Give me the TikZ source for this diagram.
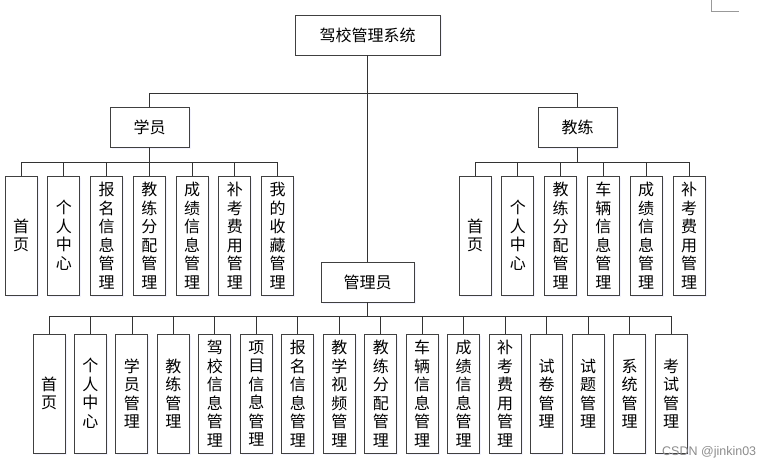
\documentclass[tikz,border=0pt]{standalone}
\usepackage{fontspec}
\newfontfamily\cjk{Noto Sans CJK SC}
\usetikzlibrary{shadows}
\tikzset{
  box/.style={draw=black!75, line width=0.9pt, fill=white, inner sep=0pt,
    align=center, font=\cjk\fontsize{16}{18.5}\selectfont,
    drop shadow={shadow xshift=1.5pt, shadow yshift=-1.5pt, fill=blue!8, opacity=.6}},
  wide/.style={box, minimum height=40, minimum width=79},
  tall/.style={box, minimum height=119, minimum width=32},
  link/.style={draw=black!80, line width=0.8pt}
}
\begin{document}
\begin{tikzpicture}[x=1pt,y=-1pt]
\useasboundingbox (0,0) rectangle (775,468);
% top
\node[wide, minimum width=145] (root) at (367.5,35) {驾校管理系统};
\node[wide] (stu) at (149.5,127) {学员};
\node[wide] (coach) at (577.5,127) {教练};
\node[wide, minimum width=93] (admin) at (367.5,282) {管理员};
\draw[link] (root.south) -- ++(0,38) -| (stu.north);
\draw[link] (root.south) -- ++(0,38) -| (coach.north);
\draw[link] (root) -- (admin);
% students
\scope
\foreach \t [count=\i from 0] in {首\\页, 个\\人\\中\\心, 报\\名\\信\\息\\管\\理,
    教\\练\\分\\配\\管\\理, 成\\绩\\信\\息\\管\\理, 补\\考\\费\\用\\管\\理,
    我\\的\\收\\藏\\管\\理}
  {\node[tall] (s\i) at (21+42.75*\i,235.5) {\t};
   \draw[link] (stu.south) -- ++(0,15) -| (s\i.north);}
\endscope
% coaches
\scope
\foreach \t [count=\i from 0] in {首\\页, 个\\人\\中\\心, 教\\练\\分\\配\\管\\理,
    车\\辆\\信\\息\\管\\理, 成\\绩\\信\\息\\管\\理, 补\\考\\费\\用\\管\\理}
  {\node[tall] (c\i) at (475+42.8*\i,235.5) {\t};
   \draw[link] (coach.south) -- ++(0,15) -| (c\i.north);}
\endscope
% admin
\scope
\foreach \t [count=\i from 0] in {首\\页, 个\\人\\中\\心, 学\\员\\管\\理, 教\\练\\管\\理,
    驾\\校\\信\\息\\管\\理, 项\\目\\信\\息\\管\\理, 报\\名\\信\\息\\管\\理,
    教\\学\\视\\频\\管\\理, 教\\练\\分\\配\\管\\理, 车\\辆\\信\\息\\管\\理,
    成\\绩\\信\\息\\管\\理, 补\\考\\费\\用\\管\\理, 试\\卷\\管\\理, 试\\题\\管\\理,
    系\\统\\管\\理, 考\\试\\管\\理}
  {\node[tall] (a\i) at (49+41.47*\i,393.5) {\t};
   \draw[link] (admin.south) -- ++(0,14) -| (a\i.north);}
\endscope
% marks
\draw[black!40, line width=0.8pt] (711,0) |- (739,11);
\node[anchor=west, text=black!45, font=\fontspec{Liberation Sans}\fontsize{12.5}{14}\selectfont,
  inner sep=0pt] (mark) at (662,452) {CSDN @jinkin03};
\end{tikzpicture}
\end{document}
